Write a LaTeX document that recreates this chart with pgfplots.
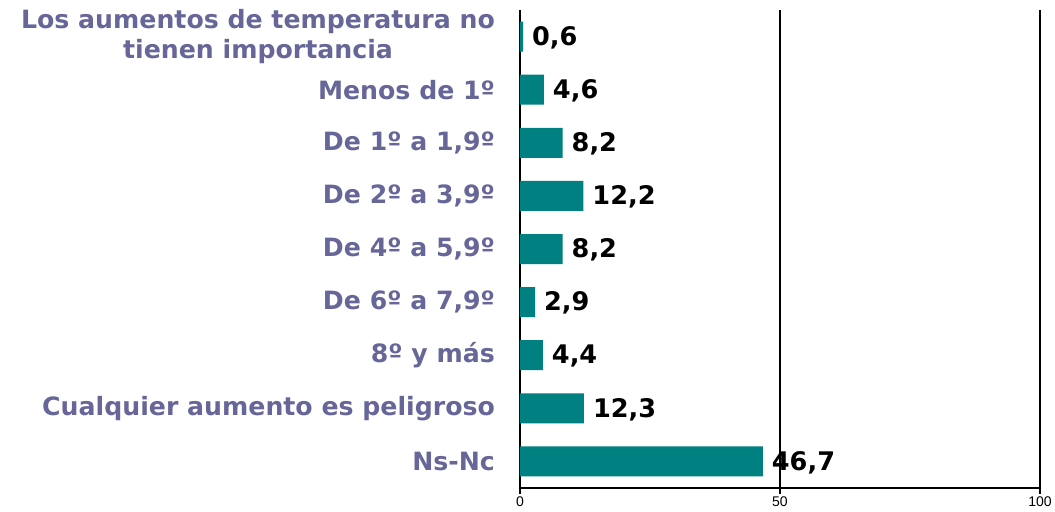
\documentclass[border=0pt]{standalone}
\usepackage{pgfplots}
\pgfplotsset{compat=1.18}
\usepackage{fontspec}
\setmainfont{DejaVu Sans}
\newfontfamily\tickfont{Liberation Sans}
\definecolor{barteal}{RGB}{0,128,128}
\definecolor{labblue}{RGB}{102,102,153}
\begin{document}
\begin{tikzpicture}
\useasboundingbox (-260pt,-11.5pt) rectangle (267.5pt,244pt);
\begin{axis}[
  at={(0,0)}, anchor=south west,
  scale only axis, width=260pt, height=239pt,
  xbar, bar width=15pt,
  xmin=0, xmax=100,
  ymin=-0.5, ymax=8.5, y dir=reverse,
  axis x line*=bottom, axis y line*=left,
  axis line style={line width=0.8pt, -},
  xtick={0,50,100},
  xmajorgrids, grid style={black, line width=0.8pt},
  xtick style={black, line width=0.8pt},
  tick align=outside, major tick length=3pt,
  xticklabel style={font=\tickfont\fontsize{7}{8}\selectfont, inner sep=1pt, /pgf/number format/assume math mode=true},
  ytick={0,...,8},
  ytick style={draw=none},
  minor ytick={-0.5,0.5,...,8.5},
  minor tick length=4pt,
  minor y tick style={black, line width=0.8pt},
  yticklabels={{Los aumentos de temperatura no\\tienen importancia},{Menos de 1º},{De 1º a 1,9º},{De 2º a 3,9º},{De 4º a 5,9º},{De 6º a 7,9º},{8º y más},{Cualquier aumento es peligroso},{Ns-Nc}},
  yticklabel style={align=center, font=\bfseries\fontsize{12.6}{15}\selectfont, text=labblue, xshift=-6pt},
  nodes near coords={\pgfmathprintnumber[assume math mode=true, use comma, fixed, fixed zerofill, precision=1]{\pgfplotspointmeta}},
  nodes near coords style={font=\bfseries\fontsize{12.8}{14}\selectfont, black, xshift=1pt, yshift=-0.5pt},
]
\addplot[fill=barteal, draw=none] coordinates {
(0.6,0) (4.6,1) (8.2,2) (12.2,3) (8.2,4) (2.9,5) (4.4,6) (12.3,7) (46.7,8)};
\end{axis}
\end{tikzpicture}
\end{document}
